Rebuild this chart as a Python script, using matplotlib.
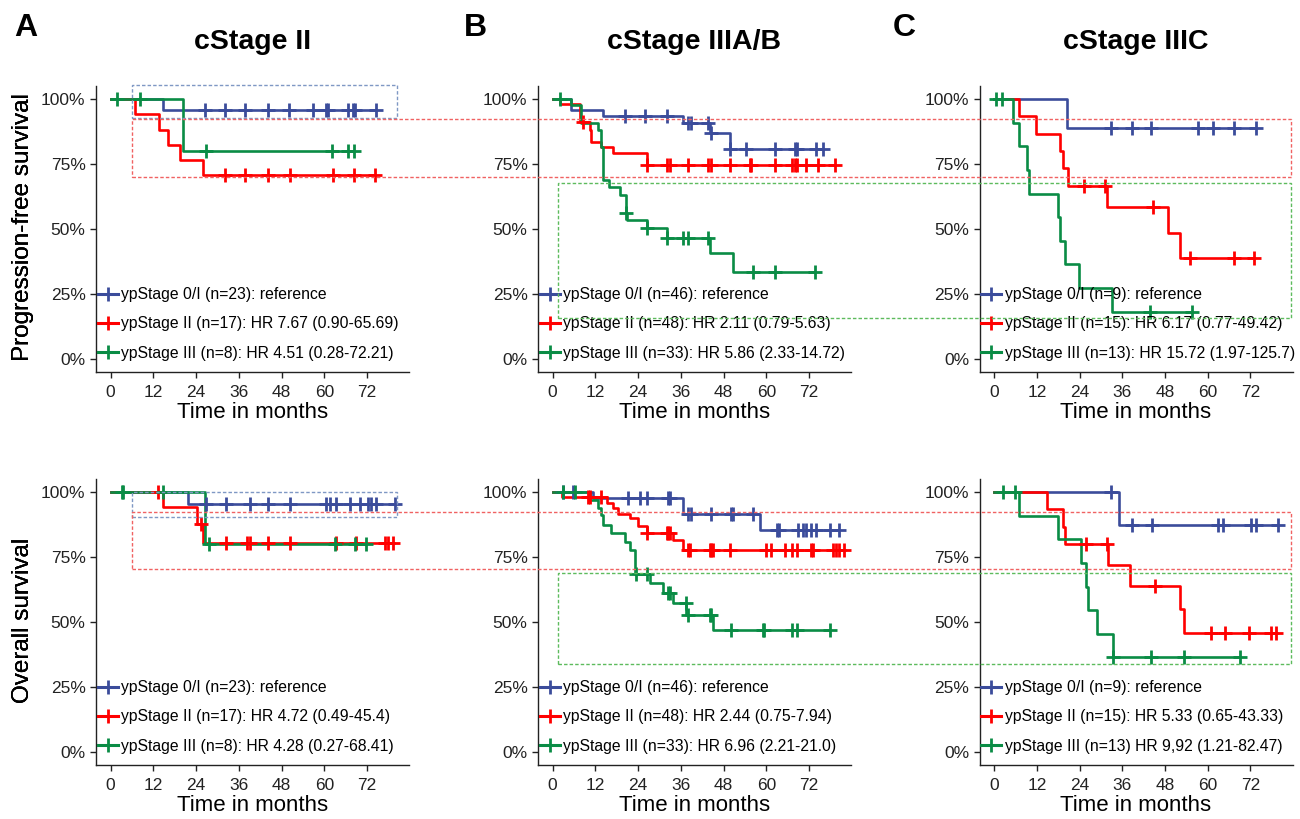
import numpy as np
import matplotlib
matplotlib.use('Agg')
import matplotlib.pyplot as plt
from matplotlib.lines import Line2D
from matplotlib.patches import Rectangle

# ---- data (months, survival after each event, censor times) ----
A_PFS_0I_T = [14.8]
A_PFS_0I_S = [0.957]
A_PFS_0I_C = [26.5, 32.1, 37.7, 44.2, 50.1, 56.8, 60.6, 61.1, 66.7, 68.1, 68.7, 74.4]
A_PFS_II_T = [6.8, 13.6, 16.0, 19.6, 26.0]
A_PFS_II_S = [0.941, 0.882, 0.824, 0.765, 0.706]
A_PFS_II_C = [32.1, 37.7, 44.2, 50.3, 62.5, 68.3, 74.2]
A_PFS_III_T = [20.2]
A_PFS_III_S = [0.80]
A_PFS_III_C = [1.7, 8.2, 26.9, 62.3, 66.7, 68.4]

A_OS_0I_T = [21.8]
A_OS_0I_S = [0.955]
A_OS_0I_C = [26.9, 32.5, 39.1, 44.2, 50.3, 60.6, 61.5, 63.4, 67.1, 69.9, 72.3, 73.2, 74.6, 80.0]
A_OS_II_T = [14.6, 24.4, 26.0]
A_OS_II_S = [0.941, 0.876, 0.803]
A_OS_II_C = [13.4, 25.5, 32.4, 38.2, 39.1, 44.2, 50.3, 63.4, 69.0, 77.0, 77.9, 79.3]
A_OS_III_T = [26.5]
A_OS_III_S = [0.80]
A_OS_III_C = [3.1, 3.5, 14.8, 27.7, 62.9, 68.5, 71.6]

B_PFS_0I_T = [5.3, 14.2, 36.6, 44.1, 49.9]
B_PFS_0I_S = [0.957, 0.935, 0.906, 0.868, 0.807]
B_PFS_0I_C = [20.3, 25.9, 32.0, 38.0, 39.0, 43.7, 44.6, 49.9, 54.4, 62.4, 68.0, 68.5, 73.9, 75.8]
B_PFS_II_T = [2.0, 7.7, 10.5, 10.9, 13.7, 17.0, 26.4]
B_PFS_II_S = [0.979, 0.913, 0.881, 0.836, 0.817, 0.794, 0.746]
B_PFS_II_C = [8.6, 26.4, 32.0, 32.9, 38.0, 43.7, 44.6, 49.7, 55.4, 55.8, 62.4, 67.1, 68.0,
              68.5, 71.3, 74.5, 79.2]
B_PFS_III_T = [5.3, 8.1, 12.8, 13.5, 14.2, 15.8, 18.9, 20.6, 20.9, 26.4, 32.0, 44.1, 50.7]
B_PFS_III_S = [0.977, 0.909, 0.881, 0.817, 0.688, 0.663, 0.631, 0.56, 0.535, 0.503, 0.467,
               0.406, 0.333]
B_PFS_III_C = [2.0, 20.7, 26.4, 32.0, 36.6, 38.0, 43.7, 56.3, 62.4, 73.8]

B_OS_0I_T = [11.4, 36.6, 58.2]
B_OS_0I_S = [0.978, 0.914, 0.854]
B_OS_0I_C = [3.0, 5.8, 21.2, 24.5, 26.4, 32.4, 32.9, 38.0, 39.0, 44.6, 50.2, 50.7, 56.3, 63.0,
             63.6, 68.9, 70.3, 71.3, 72.7, 74.1, 77.8, 80.3]
B_OS_II_T = [2.5, 15.2, 17.0, 18.4, 21.7, 24.0, 26.4, 33.8, 36.6]
B_OS_II_S = [0.979, 0.957, 0.937, 0.914, 0.899, 0.869, 0.841, 0.815, 0.777]
B_OS_II_C = [10.0, 10.5, 13.7, 26.4, 32.0, 32.4, 32.9, 38.0, 38.5, 44.1, 44.6, 45.1, 49.9,
             60.0, 61.4, 65.2, 67.1, 68.5, 72.7, 73.1, 78.7, 79.5, 80.5, 81.7]
B_OS_III_T = [10.5, 12.8, 13.5, 14.2, 16.5, 20.3, 21.7, 23.1, 27.3, 31.0, 33.8, 37.6, 45.1]
B_OS_III_S = [0.97, 0.937, 0.912, 0.873, 0.841, 0.809, 0.777, 0.683, 0.649, 0.61, 0.572,
              0.527, 0.469]
B_OS_III_C = [3.0, 6.3, 23.3, 26.4, 32.4, 32.9, 37.4, 38.0, 44.1, 44.6, 50.2, 59.1, 59.3,
              67.1, 68.5, 77.8]

C_PFS_0I_T = [20.4]
C_PFS_0I_S = [0.889]
C_PFS_0I_C = [32.8, 38.8, 44.1, 57.3, 61.5, 67.5, 73.6]
C_PFS_II_T = [7.1, 11.7, 18.4, 19.3, 20.7, 31.8, 48.8, 52.2]
C_PFS_II_S = [0.933, 0.867, 0.80, 0.733, 0.667, 0.583, 0.486, 0.389]
C_PFS_II_C = [25.3, 31.2, 44.5, 55.0, 67.5, 72.9]
C_PFS_III_T = [5.4, 7.0, 9.1, 9.9, 17.9, 18.6, 20.0, 23.9, 33.0]
C_PFS_III_S = [0.909, 0.818, 0.727, 0.636, 0.545, 0.455, 0.364, 0.273, 0.182]
C_PFS_III_C = [0.4, 2.2, 43.9, 55.5]

C_OS_0I_T = [35.1]
C_OS_0I_S = [0.875]
C_OS_0I_C = [32.8, 38.8, 44.3, 62.9, 64.3, 72.2, 73.6, 79.6]
C_OS_II_T = [14.8, 19.3, 20.0, 32.1, 38.3, 52.2, 53.2]
C_OS_II_S = [0.933, 0.867, 0.80, 0.72, 0.64, 0.549, 0.457]
C_OS_II_C = [25.8, 31.8, 45.1, 61.0, 64.8, 71.7, 77.7, 79.1]
C_OS_III_T = [7.1, 17.9, 24.4, 25.8, 26.5, 29.0, 33.4]
C_OS_III_S = [0.909, 0.818, 0.727, 0.636, 0.545, 0.455, 0.364]
C_OS_III_C = [2.4, 5.8, 33.4, 44.2, 53.2, 69.0]

TITLES = ['cStage II', 'cStage IIIA/B', 'cStage IIIC']
LETTERS = ['A', 'B', 'C']
YLABELS = ['Progression-free survival', 'Overall survival']

LEG_A_PFS = ['ypStage 0/I (n=23): reference', 'ypStage II (n=17): HR 7.67 (0.90-65.69)',
             'ypStage III (n=8): HR 4.51 (0.28-72.21)']
LEG_A_OS = ['ypStage 0/I (n=23): reference', 'ypStage II (n=17): HR 4.72 (0.49-45.4)',
            'ypStage III (n=8): HR 4.28 (0.27-68.41)']
LEG_B_PFS = ['ypStage 0/I (n=46): reference', 'ypStage II (n=48): HR 2.11 (0.79-5.63)',
             'ypStage III (n=33): HR 5.86 (2.33-14.72)']
LEG_B_OS = ['ypStage 0/I (n=46): reference', 'ypStage II (n=48): HR 2.44 (0.75-7.94)',
            'ypStage III (n=33): HR 6.96 (2.21-21.0)']
LEG_C_PFS = ['ypStage 0/I (n=9): reference', 'ypStage II (n=15): HR 6.17 (0.77-49.42)',
             'ypStage III (n=13): HR 15.72 (1.97-125.7)']
LEG_C_OS = ['ypStage 0/I (n=9): reference', 'ypStage II (n=15): HR 5.33 (0.65-43.33)',
            'ypStage III (n=13) HR 9,92 (1.21-82.47)']

COLORS = ['#3B4C9B', '#FF0000', '#0A8C45']

panels = [
    [(A_PFS_0I_T, A_PFS_0I_S, A_PFS_0I_C), (A_PFS_II_T, A_PFS_II_S, A_PFS_II_C),
     (A_PFS_III_T, A_PFS_III_S, A_PFS_III_C), LEG_A_PFS],
    [(B_PFS_0I_T, B_PFS_0I_S, B_PFS_0I_C), (B_PFS_II_T, B_PFS_II_S, B_PFS_II_C),
     (B_PFS_III_T, B_PFS_III_S, B_PFS_III_C), LEG_B_PFS],
    [(C_PFS_0I_T, C_PFS_0I_S, C_PFS_0I_C), (C_PFS_II_T, C_PFS_II_S, C_PFS_II_C),
     (C_PFS_III_T, C_PFS_III_S, C_PFS_III_C), LEG_C_PFS],
    [(A_OS_0I_T, A_OS_0I_S, A_OS_0I_C), (A_OS_II_T, A_OS_II_S, A_OS_II_C),
     (A_OS_III_T, A_OS_III_S, A_OS_III_C), LEG_A_OS],
    [(B_OS_0I_T, B_OS_0I_S, B_OS_0I_C), (B_OS_II_T, B_OS_II_S, B_OS_II_C),
     (B_OS_III_T, B_OS_III_S, B_OS_III_C), LEG_B_OS],
    [(C_OS_0I_T, C_OS_0I_S, C_OS_0I_C), (C_OS_II_T, C_OS_II_S, C_OS_II_C),
     (C_OS_III_T, C_OS_III_S, C_OS_III_C), LEG_C_OS],
]


def km(ax, T, S, C, color):
    t = np.r_[0, T]
    s = np.r_[1.0, S]
    end = max(t[-1], max(C))
    ax.step(np.r_[t, end], np.r_[s, s[-1]], where='post', color=color, lw=1.9, zorder=3)
    idx = np.searchsorted(t, C, side='right') - 1
    ax.plot(C, s[idx], ls='none', marker='+', ms=10, mew=2.0, color=color, zorder=4)


plt.rcParams['font.family'] = ['Liberation Sans', 'DejaVu Sans']
W, H = 1300, 819
fig = plt.figure(figsize=(13, 8.19), dpi=100)

lefts = [96, 538, 979.5]
tops = [86, 479]
aw, ah = 313, 286
ink = '#222222'

for i, p in enumerate(panels):
    row, col = divmod(i, 3)
    l, t = lefts[col], tops[row]
    ax = fig.add_axes([l / W, 1 - (t + ah) / H, aw / W, ah / H])
    for (T, S, C), c in zip(p[:3], COLORS):
        km(ax, T, S, C, c)
    ax.set_xlim(-4.1, 83.8)
    ax.set_ylim(-0.05, 1.05)
    ax.set_xticks(range(0, 73, 12))
    ax.set_yticks([0, 0.25, 0.5, 0.75, 1.0])
    ax.set_yticklabels(['0%', '25%', '50%', '75%', '100%'])
    for s in ['top', 'right']:
        ax.spines[s].set_visible(False)
    for s in ['left', 'bottom']:
        ax.spines[s].set_color(ink)
        ax.spines[s].set_linewidth(1.0)
    ax.tick_params(labelsize=12.5, colors=ink, length=4.5, width=1.0, pad=3)
    ax.tick_params(axis='x', pad=5)
    ax.set_xlabel('Time in months', fontsize=16, color='black', labelpad=1)
    fig.text(23 / W, 1 - (t + ah / 2 - 2) / H, YLABELS[row], rotation=90, ha='center',
             va='center', fontsize=17.5)
    handles = [Line2D([], [], color=c, lw=2.2, marker='+', ms=10, mew=2.0) for c in COLORS]
    ax.legend(handles, p[3], loc='lower left', bbox_to_anchor=(0.005, 0.04), frameon=False,
              fontsize=11.3, handlelength=1.3, handletextpad=0.2, labelspacing=0.9,
              borderpad=0, borderaxespad=0)
    if row == 0:
        fig.text((l + aw / 2) / W, 1 - 42 / H, TITLES[col], ha='center', va='center',
                 fontsize=20.5, fontweight='bold')
        fig.text([26, 475, 904][col] / W, 1 - 28 / H, LETTERS[col], ha='center',
                 va='center', fontsize=23, fontweight='bold')

# dashed highlight boxes, figure pixel coordinates (x0, y0, x1, y1)
boxes = [
    ((131.7, 85.3, 396.7, 118.3), '#7F98C4'),
    ((131.7, 119.3, 1291, 176.7), '#F06262'),
    ((558.3, 182.7, 1291, 318.3), '#5DBB5D'),
    ((131.7, 491.7, 396.7, 517.3), '#7F98C4'),
    ((131.7, 511.7, 1291, 569.3), '#F06262'),
    ((558.3, 573.3, 1291, 664.3), '#5DBB5D'),
]
for (x0, y0, x1, y1), c in boxes:
    fig.patches.append(Rectangle((x0 / W, 1 - y1 / H), (x1 - x0) / W, (y1 - y0) / H,
                                 transform=fig.transFigure, fill=False, edgecolor=c,
                                 lw=1.0, ls=(0, (2.5, 1.5)), zorder=10))

fig.savefig('out.png', dpi=100)
